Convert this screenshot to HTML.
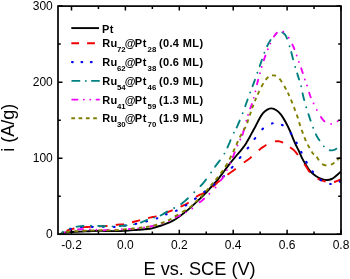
<!DOCTYPE html>
<html><head><meta charset="utf-8"><style>
html,body{margin:0;padding:0;background:#fff;width:350px;height:279px;overflow:hidden;}
svg{display:block;will-change:transform;filter:blur(0.3px);}
text{font-family:"Liberation Sans",sans-serif;}
</style></head><body>
<svg width="350" height="279" viewBox="0 0 350 279">
<defs><clipPath id="c"><rect x="58.0" y="6.1" width="283.0" height="228.1"/></clipPath></defs>
<g clip-path="url(#c)" fill="none" stroke-linejoin="round">
<path d="M61.40,233.30 C62.17,233.17 64.23,232.72 66.00,232.50 C67.77,232.28 69.50,232.15 72.00,232.00 C74.50,231.85 77.67,231.77 81.00,231.60 C84.33,231.43 88.60,231.12 92.00,231.00 C95.40,230.88 97.90,230.88 101.40,230.90 C104.90,230.92 109.18,231.10 113.00,231.10 C116.82,231.10 120.15,231.12 124.30,230.90 C128.45,230.68 133.62,230.15 137.90,229.80 C142.18,229.45 146.93,229.27 150.00,228.80 C153.07,228.33 154.22,227.62 156.30,227.00 C158.38,226.38 160.42,225.83 162.50,225.10 C164.58,224.37 166.70,223.53 168.80,222.60 C170.90,221.67 173.00,220.75 175.10,219.50 C177.20,218.25 179.32,216.67 181.40,215.10 C183.48,213.53 185.55,211.85 187.60,210.10 C189.65,208.35 191.75,206.38 193.70,204.60 C195.65,202.82 197.40,201.22 199.30,199.40 C201.20,197.58 203.07,195.85 205.10,193.70 C207.13,191.55 209.35,188.90 211.50,186.50 C213.65,184.10 215.85,181.92 218.00,179.30 C220.15,176.68 222.27,173.63 224.40,170.80 C226.53,167.97 228.85,164.77 230.80,162.30 C232.75,159.83 234.32,158.10 236.10,156.00 C237.88,153.90 239.85,151.80 241.50,149.70 C243.15,147.60 244.65,145.48 246.00,143.40 C247.35,141.32 248.40,139.35 249.60,137.20 C250.80,135.05 252.17,132.40 253.20,130.50 C254.23,128.60 254.77,127.77 255.80,125.80 C256.83,123.83 258.20,120.82 259.40,118.70 C260.60,116.58 261.68,114.60 263.00,113.10 C264.32,111.60 265.88,110.48 267.30,109.70 C268.72,108.92 269.98,108.30 271.50,108.40 C273.02,108.50 274.85,109.32 276.40,110.30 C277.95,111.28 279.32,112.43 280.80,114.30 C282.28,116.17 283.80,118.80 285.30,121.50 C286.80,124.20 288.45,127.52 289.80,130.50 C291.15,133.48 292.38,136.98 293.40,139.40 C294.42,141.82 295.03,143.17 295.90,145.00 C296.77,146.83 297.55,148.17 298.60,150.40 C299.65,152.63 301.00,156.02 302.20,158.40 C303.40,160.78 304.62,162.75 305.80,164.70 C306.98,166.65 307.97,168.45 309.30,170.10 C310.63,171.75 312.30,173.37 313.80,174.60 C315.30,175.83 316.80,176.70 318.30,177.50 C319.80,178.30 321.35,178.98 322.80,179.40 C324.25,179.82 325.52,180.07 327.00,180.00 C328.48,179.93 330.32,179.57 331.70,179.00 C333.08,178.43 334.10,177.53 335.30,176.60 C336.50,175.67 337.95,174.27 338.90,173.40 C339.85,172.53 340.65,171.73 341.00,171.40" stroke="#000000" stroke-width="1.9" stroke-linecap="butt"/>
<path d="M66.46,230.81 67.22,230.52 68.06,230.21 68.94,229.90 69.85,229.60 70.65,229.36 71.48,229.13 72.36,228.91 73.29,228.70 74.08,228.52 74.41,228.46M82.61,227.24 83.50,227.18 84.35,227.14 85.20,227.09 86.08,227.05 87.00,227.00 87.94,226.95 88.88,226.90 89.84,226.85 90.81,226.80 90.90,226.80M99.19,226.44 100.14,226.40 101.15,226.35 102.20,226.30 103.01,226.25 103.85,226.19 104.71,226.12 105.61,226.05 106.59,225.95 107.47,225.86M115.72,224.92 116.72,224.80 117.59,224.71 118.60,224.60 119.55,224.52 120.41,224.49 121.25,224.53 122.15,224.46 123.10,224.30 123.93,224.14 123.96,224.13M132.05,222.26 132.97,222.03 133.96,221.78 134.99,221.53 136.11,221.24 136.90,221.04 137.71,220.82 138.55,220.60 139.40,220.38 140.09,220.20M148.11,218.08 149.11,217.82 150.00,217.60 150.99,217.37 151.80,217.20 152.61,217.06 153.51,216.92 154.31,216.80 155.24,216.60 156.10,216.36 156.50,216.24M164.56,213.26 165.49,212.91 166.30,212.60 167.13,212.29 167.90,212.02 168.70,211.73 169.48,211.44 170.32,211.10 171.12,210.78 171.90,210.45 172.61,210.15M180.53,206.70 181.40,206.30 182.16,205.96 182.98,205.60 183.83,205.23 184.62,204.88 185.42,204.48 186.16,204.07 187.01,203.57 187.81,203.06 188.48,202.61 188.67,202.49M196.07,197.05 196.80,196.53 197.48,196.07 198.28,195.56 199.12,195.08 199.96,194.68 200.81,194.34 201.64,194.02 202.44,193.65 203.24,193.22 203.99,192.76 204.51,192.43M212.45,186.92 213.19,186.35 213.92,185.76 214.58,185.19 215.18,184.64 215.90,183.96 216.60,183.29 217.33,182.60 217.96,182.02 218.64,181.43 219.40,180.80 219.71,180.55M227.47,174.79 228.13,174.30 228.92,173.73 229.57,173.26 230.27,172.76 230.96,172.29 231.66,171.82 232.41,171.28 233.20,170.70 234.02,170.08 234.74,169.55 235.52,168.95 235.75,168.78M243.90,162.60 244.70,162.01 245.42,161.50 246.09,161.03 246.85,160.51 247.55,160.03 248.23,159.56 248.89,159.07 249.57,158.55 250.29,157.96 251.00,157.33 251.60,156.77M258.73,150.25 259.43,149.69 260.13,149.14 260.82,148.61 261.51,148.10 262.19,147.60 262.87,147.13 263.54,146.67 264.21,146.22 265.01,145.70 265.82,145.20 266.39,144.86M274.99,141.33 275.91,141.24 276.81,141.20 277.66,141.21 278.56,141.28 279.43,141.43 280.27,141.64 281.14,141.90 281.93,142.18 282.75,142.51 283.08,142.66M290.06,147.15 290.68,147.66 291.38,148.23 292.10,148.79 292.81,149.33 293.45,149.83 294.07,150.36 294.64,150.92 295.28,151.62 295.86,152.31 296.35,152.94 296.85,153.60 297.36,154.29 297.84,154.94M304.37,163.90 304.88,164.71 305.39,165.51 305.90,166.32 306.34,167.00 306.78,167.67 307.21,168.36 307.64,169.05 308.08,169.74 308.51,170.43 308.96,171.11 309.42,171.78 309.89,172.41M317.62,178.72 318.41,179.00 319.20,179.30 319.98,179.62 320.74,179.94 321.51,180.24 322.29,180.54 323.10,180.81 323.95,181.07 324.84,181.33 325.61,181.54M334.00,182.00 334.88,181.80 335.72,181.52 336.52,181.21 337.28,180.89 338.09,180.57 338.89,180.24 339.67,179.90 340.42,179.56 341.00,179.30" stroke="#f00000" stroke-width="1.9" stroke-linecap="butt"/>
<path d="M70.20,229.03 70.89,228.75M80.96,227.30 81.71,227.25M91.92,226.92 92.67,226.89M102.88,226.64 103.63,226.68M113.83,226.97 114.58,226.91M124.72,225.65 125.47,225.55M135.56,223.97 136.30,223.83M146.24,221.47 146.97,221.27M156.78,218.43 157.37,218.24M166.07,214.49 166.61,214.28M175.99,210.84 176.65,210.54M185.59,205.51 186.29,205.07M194.99,198.90 195.73,198.35M204.23,191.83 204.88,191.35 204.98,191.27M213.61,184.92 214.35,184.33 214.43,184.26M223.11,176.85 223.73,176.32 224.00,176.09M231.76,167.75 232.30,167.10 232.51,166.85M239.73,157.99 240.30,157.30 240.46,157.11M247.66,148.44 248.18,147.76 248.29,147.62M254.61,138.88 255.25,138.05M262.36,129.29 263.03,128.56M272.01,123.45 272.69,123.32M281.95,124.83 282.66,125.24 282.68,125.25M290.71,133.22 291.24,133.90 291.28,133.95M296.44,142.56 296.74,143.14M301.16,151.92 301.49,152.58M306.28,161.90 306.72,162.62M312.52,171.36 313.03,172.09 313.04,172.10M320.53,179.82 321.18,180.26M330.20,183.96 330.75,184.02M339.78,181.63 340.34,181.34" stroke="#0000f0" stroke-width="2.1" stroke-linecap="round"/>
<path d="M61.40,233.30 62.01,232.75 62.68,232.13 63.03,231.82M69.64,228.62l0.01,0M76.59,226.72 77.42,226.59 78.29,226.48 79.16,226.37 80.03,226.28 80.90,226.20 81.74,226.13 82.54,226.07 83.34,226.03 83.51,226.02M90.94,225.72l0.01,0M98.14,225.88 99.08,225.95 100.14,226.03 100.94,226.08 101.74,226.14 102.54,226.19 103.60,226.25 104.64,226.29 105.09,226.31M112.52,226.37l0.01,0M119.72,226.05 120.61,225.99 121.63,225.90 122.67,225.80 123.47,225.72 124.28,225.63 125.12,225.53 125.98,225.43 126.64,225.35M134.00,224.36l0.01,0M140.96,222.49 141.94,222.12 142.87,221.74 143.80,221.35 144.72,220.96 145.63,220.56 146.54,220.18 147.15,219.92M154.01,217.58l0.01,0M160.65,215.41 161.49,214.99 162.30,214.55 163.09,214.09 163.85,213.62 164.59,213.15 165.32,212.68 166.03,212.23 166.73,211.80 167.14,211.56M174.15,208.01l0.01,0M181.12,203.99 181.90,203.44 182.55,202.97 183.32,202.37 184.06,201.75 184.79,201.13 185.52,200.49 186.26,199.82 186.87,199.27 187.50,198.70 187.93,198.31M194.30,192.20l0.01,0M200.48,186.09 201.14,185.40 201.76,184.73 202.37,184.06 202.97,183.38 203.57,182.67 204.19,181.93 204.70,181.30 205.23,180.63 205.78,179.91 206.05,179.55M211.06,172.53l0.01,0M215.07,166.73 215.65,165.92 216.12,165.26 216.63,164.57 217.17,163.86 217.74,163.13 218.32,162.38 218.92,161.61 219.53,160.82 219.86,160.39M224.39,153.62l0.01,0M227.42,147.50 227.77,146.75 228.13,145.96 228.47,145.20 228.81,144.46 229.22,143.51 229.60,142.60 229.94,141.72 230.27,140.86 230.54,140.13M233.89,132.66l0.01,0M236.66,127.47 237.06,126.65 237.47,125.79 237.87,124.90 238.28,123.97 238.70,123.00 239.12,122.01 239.55,120.99 239.73,120.54M242.65,113.21l0.01,0M245.25,106.19 245.56,105.30 245.92,104.30 246.27,103.30 246.62,102.30 246.98,101.30 247.33,100.31 247.61,99.52M250.11,92.44l0.01,0M252.55,86.16 252.88,85.32 253.27,84.34 253.64,83.36 254.00,82.40 254.35,81.44 254.70,80.48 254.96,79.73M257.38,72.78l0.01,0M259.71,66.17 260.04,65.25 260.39,64.24 260.67,63.43 260.96,62.58 261.26,61.69 261.57,60.77 261.89,59.84 261.93,59.72M264.38,52.80l0.01,0M267.13,46.24 267.49,45.46 267.93,44.57 268.36,43.72 268.80,42.90 269.24,42.13 269.67,41.39 270.11,40.70 270.58,39.98M275.70,34.43l0.01,0M282.33,32.52 283.11,32.94 283.84,33.47 284.46,34.05 285.07,34.74 285.56,35.42 286.03,36.21 286.39,36.95 286.74,37.76 287.05,38.57M289.58,46.28l0.01,0M291.25,52.08 291.47,52.91 291.68,53.71 291.88,54.52 292.09,55.35 292.29,56.19 292.50,57.04 292.71,57.88 292.91,58.72 293.07,59.39M295.18,66.95l0.01,0M297.21,73.43 297.49,74.31 297.77,75.21 298.06,76.14 298.29,76.90 298.54,77.70 298.79,78.52 299.06,79.38 299.10,79.52M301.13,86.22l0.01,0M302.57,93.33 302.74,94.18 302.94,95.10 303.16,96.04 303.40,97.00 303.65,97.99 303.91,99.00 304.19,100.02 304.21,100.09M306.25,107.23l0.01,0M308.43,114.11 308.72,114.98 308.97,115.75 309.23,116.55 309.50,117.36 309.77,118.19 310.04,119.03 310.32,119.87 310.61,120.71 310.61,120.71M313.12,127.71l0.01,0M315.91,134.35 316.31,135.13 316.74,135.95 317.17,136.72 317.61,137.47 318.05,138.20 318.52,138.94 319.00,139.69 319.43,140.35M323.82,146.33l0.01,0M329.76,150.26 330.56,150.37 331.41,150.40 332.30,150.33 333.10,150.17 333.90,149.93 334.67,149.64 335.48,149.27 336.24,148.81 336.36,148.72" stroke="#008080" stroke-width="1.9" stroke-linecap="round"/>
<path d="M64.73,232.46l0.01,0M71.03,230.39l0.01,0M78.00,229.37 78.85,229.34 79.70,229.30 80.54,229.27 81.37,229.25 82.18,229.24 82.99,229.24M89.80,229.42l0.01,0M96.42,229.73l0.01,0M103.48,230.08 104.44,230.10 105.36,230.10 106.26,230.09 107.15,230.06 108.04,230.03 108.47,230.01M115.27,229.63l0.01,0M121.89,229.24l0.01,0M128.95,228.95 129.96,228.93 130.96,228.90 131.99,228.86 132.62,228.83M138.30,228.35l0.01,0M144.04,227.53l0.01,0M150.19,226.46 151.11,226.28 152.02,226.11 152.90,225.93 153.77,225.75 154.60,225.57 155.41,225.39 155.54,225.36M162.52,223.49l0.01,0M169.21,221.13l0.01,0M175.64,217.32 176.46,216.91 177.21,216.55 177.95,216.21 178.69,215.88 179.42,215.55 179.93,215.31M185.84,212.35l0.01,0M192.31,208.47l0.01,0M199.74,202.14 200.48,201.68 201.17,201.22 201.90,200.64 202.60,200.04 203.27,199.44 204.01,198.76 204.08,198.70M209.39,193.69l0.01,0M215.56,187.47l0.01,0M220.71,180.47 221.27,179.79 221.81,179.13 222.35,178.45 222.88,177.74 223.40,176.98 223.80,176.33M226.93,170.09l0.01,0M230.26,163.30l0.01,0M232.82,157.31 233.17,156.41 233.51,155.51 233.86,154.60 234.20,153.70 234.55,152.80 234.78,152.20M237.42,145.46l0.01,0M240.28,139.47l0.01,0M242.43,134.91 242.72,134.03 242.97,133.22 243.20,132.39 243.42,131.56 243.65,130.72 243.87,129.87 244.09,129.01 244.20,128.59M246.37,120.73l0.01,0M248.01,114.92l0.01,0M250.16,108.32 250.53,107.54 250.92,106.72 251.26,105.95 251.55,105.20 251.86,104.31 251.94,104.09M253.75,97.87l0.01,0M255.38,91.36l0.01,0M257.02,84.24 257.27,83.23 257.47,82.44 257.67,81.65 257.88,80.87 258.15,79.85 258.21,79.64M259.97,73.26l0.01,0M261.72,66.99l0.01,0M263.86,60.14 264.18,59.16 264.45,58.34 264.73,57.52 265.02,56.69 265.31,55.87 265.43,55.53M267.84,49.25l0.01,0M270.26,43.62l0.01,0M273.97,36.60 274.47,35.81 275.00,35.04 275.49,34.38 276.04,33.71 276.64,33.08 276.95,32.79M283.29,31.76l0.01,0M288.70,37.82l0.01,0M292.35,44.61 292.71,45.34 293.12,46.18 293.50,47.00 293.84,47.76 294.19,48.57 294.41,49.10M296.68,55.48l0.01,0M298.89,61.91l0.01,0M301.23,68.31 301.51,69.17 301.80,70.04 302.09,70.93 302.34,71.70 302.60,72.50 302.77,73.04M304.84,79.52l0.01,0M307.04,85.54l0.01,0M309.18,92.67 309.46,93.59 309.75,94.49 310.04,95.37 310.36,96.23 310.70,97.08 310.77,97.27M313.56,103.38l0.01,0M316.82,109.91l0.01,0M320.94,117.05 321.50,117.84 322.07,118.63 322.65,119.38 323.23,120.09 323.81,120.73 324.38,121.30 324.42,121.33M331.11,123.88l0.01,0M337.64,121.21l0.01,0" stroke="#f000f0" stroke-width="1.9" stroke-linecap="round"/>
<path d="M61.40,233.30 62.28,233.09 62.33,233.08M66.26,232.13 67.21,231.94 68.18,231.77 69.16,231.63 70.15,231.52 70.24,231.51M74.28,231.26 75.24,231.22 76.14,231.19 77.05,231.16 77.95,231.12 78.31,231.11M82.35,230.92 83.22,230.87 84.11,230.82 84.99,230.77 85.87,230.72 86.38,230.69M90.42,230.48 91.25,230.44 92.30,230.40 93.29,230.37 94.23,230.35 94.45,230.34M98.49,230.31 99.46,230.31 100.40,230.30 101.40,230.30 102.20,230.30 102.53,230.30M106.57,230.32 107.64,230.33 108.57,230.33 109.48,230.33 110.36,230.33 110.61,230.33M114.65,230.25 115.48,230.21 116.36,230.14 117.24,230.06 118.18,229.97 118.68,229.92M122.70,229.55 123.84,229.44 124.75,229.35 125.69,229.26 126.65,229.16 126.72,229.16M130.74,228.76 131.63,228.67 132.61,228.57 133.58,228.47 134.52,228.37 134.76,228.34M138.78,227.90 139.73,227.79 140.78,227.67 141.81,227.54 142.47,227.46M145.84,227.03 146.70,226.91 147.52,226.79 148.55,226.63 149.51,226.48M153.47,225.71 154.33,225.48 155.14,225.25 155.99,224.99 156.77,224.75 157.26,224.59M160.86,223.24 161.72,222.90 162.50,222.60 163.28,222.31 164.07,222.02 164.47,221.88M168.05,220.46 168.80,220.10 169.58,219.69 170.35,219.26 171.11,218.80 171.42,218.60M174.68,216.55 175.45,216.09 176.16,215.68 176.89,215.25 177.64,214.82 178.24,214.47M182.03,212.25 182.79,211.79 183.53,211.34 184.28,210.90 185.03,210.46 185.77,210.02M189.38,207.66 190.18,207.06 190.90,206.47 191.61,205.86 192.32,205.22 192.50,205.06M195.25,202.41 195.98,201.69 196.66,201.03 197.34,200.38 197.98,199.76M200.71,197.09 201.29,196.51 201.93,195.86 202.56,195.20 203.19,194.54 203.36,194.35M205.86,191.48 206.50,190.71 207.08,190.00 207.66,189.29 208.24,188.58 208.28,188.53M210.76,185.63 211.41,184.89 211.98,184.25 212.55,183.60 213.11,182.95 213.27,182.77M215.71,179.84 216.28,179.12 216.89,178.34 217.50,177.54 218.11,176.75 218.12,176.73M220.56,173.51 221.12,172.79 221.66,172.12 222.19,171.48 222.73,170.81 223.09,170.35M225.26,166.94 225.66,166.25 226.15,165.41 226.64,164.54 227.13,163.66 227.33,163.30M229.40,159.48 229.84,158.65 230.29,157.78 230.74,156.90 231.19,156.01 231.32,155.76M233.09,152.14 233.53,151.18 233.87,150.45 234.21,149.70 234.54,148.94 234.75,148.47M236.36,144.77 236.75,143.87 237.18,142.92 237.60,142.00 238.01,141.12 238.02,141.10M239.75,137.46 240.13,136.68 240.52,135.91 240.90,135.15 241.30,134.38 241.57,133.87M243.59,130.38 244.11,129.52 244.54,128.79 244.95,128.06 245.34,127.33 245.57,126.87M247.11,123.15 247.38,122.36 247.69,121.46 248.00,120.54 248.33,119.59 248.42,119.34M249.70,115.52 249.97,114.67 250.25,113.82 250.53,112.95 250.83,112.09 250.92,111.82M252.16,108.27 252.46,107.44 252.78,106.54 253.11,105.63 253.44,104.74M254.81,101.23 255.15,100.41 255.53,99.50 255.91,98.58 256.22,97.86M257.66,94.61 258.00,93.86 258.40,93.00 258.79,92.15 259.18,91.32 259.35,90.97M261.32,86.96 261.77,86.13 262.19,85.37 262.62,84.63 263.07,83.87 263.45,83.24M265.72,79.81 266.25,79.10 266.79,78.43 267.40,77.79 268.04,77.22 268.44,76.94M271.99,75.52 272.78,75.39 273.64,75.38 274.43,75.48 275.25,75.69 275.99,75.95M279.39,78.57 279.98,79.30 280.51,80.03 281.00,80.74 281.55,81.57 281.92,82.16M284.20,85.97 284.66,86.77 285.10,87.54 285.50,88.25 285.97,89.12 286.15,89.45M287.77,92.58 288.16,93.36 288.54,94.17 288.93,94.99 289.31,95.83 289.38,95.99M290.95,99.67 291.26,100.41 291.62,101.28 291.95,102.09 292.26,102.84 292.47,103.37M293.91,107.10 294.19,107.87 294.49,108.69 294.79,109.52 295.09,110.36 295.27,110.86M296.68,114.60 297.00,115.46 297.28,116.27 297.58,117.13 297.89,118.08 297.98,118.38M299.10,122.22 299.37,123.12 299.64,124.07 299.92,124.99 300.20,125.87 300.25,126.05M301.59,129.82 301.90,130.61 302.23,131.47 302.58,132.36 302.87,133.11 303.04,133.55M304.45,137.29 304.79,138.21 305.15,139.15 305.52,140.07 305.88,140.96 305.90,141.02M307.64,144.62 308.08,145.39 308.54,146.18 309.00,146.93 309.45,147.66 309.69,148.05M311.66,151.53 312.12,152.31 312.60,153.01 313.14,153.68 313.74,154.24 314.00,154.46M316.66,156.80 317.21,157.58 317.64,158.27 318.07,159.01 318.51,159.75 318.88,160.37M322.18,163.91 322.86,164.37 323.58,164.74 324.34,165.03 325.15,165.22 326.05,165.32 326.53,165.34M330.89,164.67 331.68,164.32 332.42,163.92 333.15,163.45 333.86,162.94 334.37,162.55M337.24,160.19 337.82,159.58 338.39,158.94 338.96,158.34 339.58,157.77 339.96,157.42" stroke="#808000" stroke-width="1.9" stroke-linecap="butt"/>
</g>
<rect x="58.0" y="6.1" width="283.0" height="228.1" fill="none" stroke="#000" stroke-width="1.7"/>
<path d="M71.50,234.20V229.70M71.50,6.10V10.60M98.45,234.20V231.40M98.45,6.10V8.90M125.40,234.20V229.70M125.40,6.10V10.60M152.35,234.20V231.40M152.35,6.10V8.90M179.30,234.20V229.70M179.30,6.10V10.60M206.25,234.20V231.40M206.25,6.10V8.90M233.20,234.20V229.70M233.20,6.10V10.60M260.15,234.20V231.40M260.15,6.10V8.90M287.10,234.20V229.70M287.10,6.10V10.60M314.05,234.20V231.40M314.05,6.10V8.90M341.00,234.20V229.70M341.00,6.10V10.60M58.00,234.20H62.50M341.00,234.20H336.50M58.00,196.18H60.80M341.00,196.18H338.20M58.00,158.17H62.50M341.00,158.17H336.50M58.00,120.15H60.80M341.00,120.15H338.20M58.00,82.13H62.50M341.00,82.13H336.50M58.00,44.12H60.80M341.00,44.12H338.20M58.00,6.10H62.50M341.00,6.10H336.50" stroke="#000" stroke-width="1.5" fill="none"/>
<text x="71.50" y="249" font-family="Liberation Sans, sans-serif" font-size="12" text-anchor="middle">-0.2</text>
<text x="125.40" y="249" font-family="Liberation Sans, sans-serif" font-size="12" text-anchor="middle">0.0</text>
<text x="179.30" y="249" font-family="Liberation Sans, sans-serif" font-size="12" text-anchor="middle">0.2</text>
<text x="233.20" y="249" font-family="Liberation Sans, sans-serif" font-size="12" text-anchor="middle">0.4</text>
<text x="287.10" y="249" font-family="Liberation Sans, sans-serif" font-size="12" text-anchor="middle">0.6</text>
<text x="341.00" y="249" font-family="Liberation Sans, sans-serif" font-size="12" text-anchor="middle">0.8</text>
<text x="52.8" y="237.90" font-family="Liberation Sans, sans-serif" font-size="12" text-anchor="end">0</text>
<text x="52.8" y="162.47" font-family="Liberation Sans, sans-serif" font-size="12" text-anchor="end">100</text>
<text x="52.8" y="86.43" font-family="Liberation Sans, sans-serif" font-size="12" text-anchor="end">200</text>
<text x="52.8" y="10.40" font-family="Liberation Sans, sans-serif" font-size="12" text-anchor="end">300</text>
<text x="199.6" y="274.6" font-family="Liberation Sans, sans-serif" font-size="18.2" text-anchor="middle">E vs. SCE (V)</text>
<text transform="translate(13.8,127.7) rotate(-90)" font-family="Liberation Sans, sans-serif" font-size="18" text-anchor="middle">i (A/g)</text>
<path d="M71.3,28.10H99" stroke="#000000" stroke-width="1.9" stroke-linecap="butt" fill="none"/>
<text x="102" y="32.70" font-family="Liberation Sans, sans-serif" font-size="11" font-weight="bold" letter-spacing="0.3">Pt</text>
<path d="M71.3,43.30H99" stroke="#f00000" stroke-width="1.9" stroke-linecap="butt" fill="none" stroke-dasharray="7.8 8" stroke-dashoffset="0.00"/>
<text y="47.40" font-family="Liberation Sans, sans-serif" font-size="11" font-weight="bold" letter-spacing="0.3"><tspan x="102.2">Ru</tspan><tspan x="117.0" font-size="7.8" font-weight="bold" letter-spacing="0" dy="4.8">72</tspan><tspan x="124.8" dy="-4.8">@</tspan><tspan x="134.8" letter-spacing="0.7">Pt</tspan><tspan x="147.6" font-size="7.8" font-weight="bold" letter-spacing="0" dy="4.8">28</tspan><tspan x="158.9" dy="-4.8" letter-spacing="0.38">(0.4 ML)</tspan></text>
<path d="M71.3,62.10H99" stroke="#0000f0" stroke-width="2.1" stroke-linecap="round" fill="none" stroke-dasharray="0.8 8.65" stroke-dashoffset="-0.70"/>
<text y="66.20" font-family="Liberation Sans, sans-serif" font-size="11" font-weight="bold" letter-spacing="0.3"><tspan x="102.2">Ru</tspan><tspan x="117.0" font-size="7.8" font-weight="bold" letter-spacing="0" dy="4.8">62</tspan><tspan x="124.8" dy="-4.8">@</tspan><tspan x="134.8" letter-spacing="0.7">Pt</tspan><tspan x="147.6" font-size="7.8" font-weight="bold" letter-spacing="0" dy="4.8">38</tspan><tspan x="158.9" dy="-4.8" letter-spacing="0.38">(0.6 ML)</tspan></text>
<path d="M71.3,80.90H99" stroke="#008080" stroke-width="1.9" stroke-linecap="round" fill="none" stroke-dasharray="7.2 6.4 0.01 6.09" stroke-dashoffset="-0.95"/>
<text y="85.00" font-family="Liberation Sans, sans-serif" font-size="11" font-weight="bold" letter-spacing="0.3"><tspan x="102.2">Ru</tspan><tspan x="117.0" font-size="7.8" font-weight="bold" letter-spacing="0" dy="4.8">54</tspan><tspan x="124.8" dy="-4.8">@</tspan><tspan x="134.8" letter-spacing="0.7">Pt</tspan><tspan x="147.6" font-size="7.8" font-weight="bold" letter-spacing="0" dy="4.8">46</tspan><tspan x="158.9" dy="-4.8" letter-spacing="0.38">(0.9 ML)</tspan></text>
<path d="M71.3,99.60H99" stroke="#f000f0" stroke-width="1.9" stroke-linecap="round" fill="none" stroke-dasharray="5.3 6.33 0.01 6.33 0.01 6.33" stroke-dashoffset="-0.95"/>
<text y="103.70" font-family="Liberation Sans, sans-serif" font-size="11" font-weight="bold" letter-spacing="0.3"><tspan x="102.2">Ru</tspan><tspan x="117.0" font-size="7.8" font-weight="bold" letter-spacing="0" dy="4.8">41</tspan><tspan x="124.8" dy="-4.8">@</tspan><tspan x="134.8" letter-spacing="0.7">Pt</tspan><tspan x="147.6" font-size="7.8" font-weight="bold" letter-spacing="0" dy="4.8">59</tspan><tspan x="158.9" dy="-4.8" letter-spacing="0.38">(1.3 ML)</tspan></text>
<path d="M71.3,118.30H99" stroke="#808000" stroke-width="1.9" stroke-linecap="butt" fill="none" stroke-dasharray="3.7 3.6" stroke-dashoffset="0.00"/>
<text y="122.40" font-family="Liberation Sans, sans-serif" font-size="11" font-weight="bold" letter-spacing="0.3"><tspan x="102.2">Ru</tspan><tspan x="117.0" font-size="7.8" font-weight="bold" letter-spacing="0" dy="4.8">30</tspan><tspan x="124.8" dy="-4.8">@</tspan><tspan x="134.8" letter-spacing="0.7">Pt</tspan><tspan x="147.6" font-size="7.8" font-weight="bold" letter-spacing="0" dy="4.8">70</tspan><tspan x="158.9" dy="-4.8" letter-spacing="0.38">(1.9 ML)</tspan></text>
</svg>
</body></html>
